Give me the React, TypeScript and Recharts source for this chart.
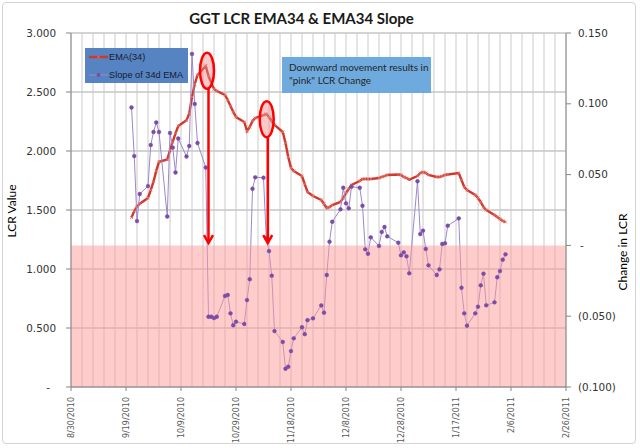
import React from 'react';
import {
  ComposedChart,
  Line,
  XAxis,
  YAxis,
  CartesianGrid,
  ReferenceArea,
  ReferenceDot,
  ReferenceLine,
} from 'recharts';

// ---------- data ----------
const dates = [
  '9/21/2010', '9/22/2010', '9/23/2010', '9/24/2010', '9/27/2010', '9/28/2010', '9/29/2010', '9/30/2010', '10/1/2010',
  '10/4/2010', '10/5/2010', '10/6/2010', '10/7/2010', '10/8/2010', '10/11/2010', '10/12/2010', '10/13/2010', '10/14/2010',
  '10/15/2010', '10/18/2010', '10/19/2010', '10/20/2010', '10/21/2010', '10/22/2010', '10/25/2010', '10/26/2010',
  '10/27/2010', '10/28/2010', '10/29/2010', '11/1/2010', '11/2/2010', '11/3/2010', '11/4/2010', '11/5/2010', '11/8/2010',
  '11/9/2010', '11/10/2010', '11/11/2010', '11/12/2010', '11/15/2010', '11/16/2010', '11/17/2010', '11/18/2010',
  '11/19/2010', '11/22/2010', '11/23/2010', '11/24/2010', '11/26/2010', '11/29/2010', '11/30/2010', '12/1/2010',
  '12/2/2010', '12/3/2010', '12/6/2010', '12/7/2010', '12/8/2010', '12/9/2010', '12/10/2010', '12/13/2010', '12/14/2010',
  '12/15/2010', '12/16/2010', '12/17/2010', '12/20/2010', '12/21/2010', '12/22/2010', '12/23/2010', '12/27/2010',
  '12/28/2010', '12/29/2010', '12/30/2010', '12/31/2010', '1/3/2011', '1/4/2011', '1/5/2011', '1/6/2011', '1/7/2011',
  '1/10/2011', '1/11/2011', '1/12/2011', '1/13/2011', '1/14/2011', '1/18/2011', '1/19/2011', '1/20/2011', '1/21/2011',
  '1/24/2011', '1/25/2011', '1/26/2011', '1/27/2011', '1/28/2011', '1/31/2011', '2/1/2011', '2/2/2011', '2/3/2011',
  '2/4/2011',
];

const emaValues = [
  1.436, 1.492, 1.528, 1.553, 1.602, 1.669, 1.74, 1.831, 1.909,
  1.928, 2.008, 2.079, 2.15, 2.212, 2.26, 2.319, 2.458, 2.568,
  2.644, 2.72, 2.636, 2.576, 2.525, 2.508, 2.475, 2.432,
  2.381, 2.331, 2.288, 2.246, 2.169, 2.203, 2.254, 2.28, 2.305,
  2.314, 2.288, 2.254, 2.22, 2.161, 2.068, 1.949, 1.856,
  1.831, 1.788, 1.72, 1.653, 1.619, 1.585, 1.551, 1.517,
  1.525, 1.542, 1.568, 1.602, 1.644, 1.678, 1.712, 1.746, 1.763,
  1.763, 1.763, 1.763, 1.771, 1.78, 1.788, 1.797, 1.801,
  1.797, 1.78, 1.771, 1.758, 1.788, 1.814, 1.822, 1.814, 1.797,
  1.78, 1.78, 1.788, 1.797, 1.801, 1.814, 1.754, 1.695, 1.669,
  1.627, 1.602, 1.568, 1.525, 1.5, 1.458, 1.441, 1.424, 1.407,
  1.398,
];

const slopeValues = [
  0.0974, 0.0631, 0.0172, 0.0363, 0.0419, 0.0709, 0.0801, 0.0868, 0.0801,
  0.0204, 0.0794, 0.0691, 0.0515, 0.0755, 0.0628, 0.0702, 0.1352, 0.0999,
  0.0723, 0.055, -0.0504, -0.0504, -0.0513, -0.0504, -0.0357, -0.035,
  -0.048, -0.0564, -0.0539, -0.0555, -0.0386, -0.0239, 0.04, 0.0481, 0.0478,
  0.0052, -0.004, -0.0214, -0.0605, -0.0682, -0.0871, -0.0857, -0.0746,
  -0.0656, -0.0578, -0.0627, -0.0528, -0.0515, -0.0424, -0.0475, -0.0209,
  0.0026, 0.0167, 0.0255, 0.0407, 0.0297, 0.0262, 0.0415, 0.0407, 0.028,
  -0.0028, -0.0059, 0.0057, -0.0004, 0.0095, 0.013, 0.0064, 0.0019,
  -0.007, -0.0049, -0.0077, -0.0197, 0.0453, 0.008, 0.0104, -0.0025, -0.0141,
  -0.0209, -0.0169, 0.001, 0.0015, 0.0139, 0.0191, -0.0299, -0.048, -0.0567,
  -0.048, -0.0433, -0.0282, -0.02, -0.0423, -0.0402, -0.0225, -0.0181, -0.0101,
  -0.0063,
];

const xTickLabels = [
  '8/30/2010', '9/19/2010', '10/9/2010', '10/29/2010', '11/18/2010',
  '12/8/2010', '12/28/2010', '1/17/2011', '2/6/2011', '2/26/2011',
];
const leftTicks = [0, 0.5, 1, 1.5, 2, 2.5, 3];
const rightTicks = [-0.1, -0.05, 0, 0.05, 0.1, 0.15];

const ellipseNotes = [
  { date: '10/18/2010', hour: 11, value: 2.68 },
  { date: '11/9/2010', hour: 4, value: 2.27 },
];
const arrowNotes = [
  { date: '10/19/2010', hour: 0, from: 2.53, to: 1.22 },
  { date: '11/9/2010', hour: 13, from: 2.12, to: 1.22 },
];

// ---------- helpers ----------
const DAY = 86400000;
const toTs = (s: string, hour = 0) => {
  const [m, d, y] = s.split('/').map(Number);
  return Date.UTC(y, m - 1, d, hour);
};
const fmtDate = (ts: number) => {
  const d = new Date(ts);
  return `${d.getUTCMonth() + 1}/${d.getUTCDate()}/${d.getUTCFullYear()}`;
};

const data = dates.map((d, i) => ({ t: toTs(d), ema: emaValues[i], slope: slopeValues[i] }));

const xStart = toTs(xTickLabels[0]);
const xEnd = toTs(xTickLabels[xTickLabels.length - 1]);
const majorSet = new Set(xTickLabels.map((s) => toTs(s)));
const gridTicks: number[] = [];
for (let t = xStart; t <= xEnd; t += 4 * DAY) gridTicks.push(t);

const EMA_COLOR = '#d0382c';
const SLOPE_LINE = '#9d88cc';
const SLOPE_DOT = '#7a4ca6';
const TICK_FONT = 'DejaVu Sans';
const TEXT_FONT = 'Lato';

const XTick = (props: any) => {
  const { x, payload } = props;
  const v = payload.value as number;
  if (!majorSet.has(v)) return null;
  return (
    <g>
      <line x1={x} x2={x} y1={387} y2={391} stroke="#868686" strokeWidth={1} />
      <text
        transform={`translate(${x},${397}) rotate(-90)`}
        textAnchor="end"
        dy="0.35em"
        fontFamily={TICK_FONT}
        fontSize={8}
        fill="#595959"
      >
        {fmtDate(v)}
      </text>
    </g>
  );
};

const LeftTick = (props: any) => {
  const { x, y, payload } = props;
  const v = payload.value as number;
  const label = v === 0 ? '-' : v.toFixed(3);
  return (
    <text x={v === 0 ? x - 6 : x} y={y} dy="0.35em" textAnchor="end" fontFamily={TICK_FONT} fontSize={10.4} fill="#333">
      {label}
    </text>
  );
};

const RightTick = (props: any) => {
  const { x, y, payload } = props;
  const v = payload.value as number;
  const label = Math.abs(v) < 1e-9 ? '-' : v < 0 ? `(${Math.abs(v).toFixed(3)})` : v.toFixed(3);
  return (
    <text x={Math.abs(v) < 1e-9 ? x + 2 : x} y={y} dy="0.35em" textAnchor="start" fontFamily={TICK_FONT} fontSize={10.4} fill="#333">
      {label}
    </text>
  );
};

const EmaDot = (props: any) => {
  const { cx, cy } = props;
  if (cx == null || cy == null) return null;
  return (
    <path
      d={`M${cx - 1.5},${cy - 1.5}L${cx + 1.5},${cy + 1.5}M${cx - 1.5},${cy + 1.5}L${cx + 1.5},${cy - 1.5}`}
      stroke="#e2766c"
      strokeWidth={0.8}
      fill="none"
    />
  );
};

const EllipseShape = (props: any) => {
  const { cx, cy } = props;
  return (
    <ellipse cx={cx} cy={cy} rx={7} ry={18} fill="#f08a8a" fillOpacity={0.45} stroke="#ff0000" strokeWidth={2.5} />
  );
};

const ArrowShape = (props: any) => {
  const { x1, y1, x2, y2 } = props;
  const top = Math.min(y1, y2);
  const tip = Math.max(y1, y2);
  const x = x1;
  return (
    <g>
      <line x1={x} x2={x} y1={top} y2={tip - 1} stroke="#ff0000" strokeWidth={2.5} />
      <polyline
        points={`${x - 4.5},${tip - 8} ${x},${tip} ${x + 4.5},${tip - 8}`}
        fill="none"
        stroke="#ff0000"
        strokeWidth={2.5}
      />
    </g>
  );
};

export default function App() {
  return (
    <div
      style={{
        position: 'fixed',
        left: 0,
        top: 0,
        width: 640,
        height: 448,
        background: '#fff',
        overflow: 'hidden',
      }}
    >
      <div
        style={{
          position: 'absolute',
          left: 2,
          top: 2,
          width: 634,
          height: 442,
          border: '1px solid #d4d4d4',
          borderRadius: 4,
          boxSizing: 'border-box',
        }}
      />
      <ComposedChart width={640} height={448} data={data} margin={{ top: 33, right: 0, bottom: 0, left: 0 }}>
        <CartesianGrid yAxisId="left" vertical={false} stroke="#a9a9a9" strokeWidth={1} />
        <CartesianGrid horizontal={false} stroke="#cacaca" strokeWidth={1} />
        <XAxis
          dataKey="t"
          type="number"
          domain={[xStart, xEnd]}
          ticks={gridTicks}
          interval={0}
          tick={<XTick />}
          tickLine={false}
          axisLine={{ stroke: '#868686' }}
          height={61}
          allowDataOverflow
        />
        <YAxis
          yAxisId="left"
          domain={[0, 3]}
          ticks={leftTicks}
          interval={0}
          width={71}
          tick={<LeftTick />}
          tickSize={5}
          tickMargin={10}
          tickLine={{ stroke: '#868686' }}
          axisLine={{ stroke: '#868686' }}
        />
        <YAxis
          yAxisId="right"
          orientation="right"
          domain={[-0.1, 0.15]}
          ticks={rightTicks}
          interval={0}
          width={74}
          tick={<RightTick />}
          tickSize={5}
          tickMargin={7}
          tickLine={{ stroke: '#868686' }}
          axisLine={{ stroke: '#868686' }}
        />
        <Line
          yAxisId="left"
          dataKey="ema"
          stroke={EMA_COLOR}
          strokeWidth={2.4}
          dot={<EmaDot />}
          isAnimationActive={false}
        />
        <Line
          yAxisId="right"
          dataKey="slope"
          stroke={SLOPE_LINE}
          strokeWidth={1}
          dot={{ r: 1.9, fill: SLOPE_DOT, stroke: SLOPE_DOT, strokeWidth: 0.5 }}
          isAnimationActive={false}
        />
        <ReferenceArea
          yAxisId="right"
          y1={-0.1}
          y2={0}
          fill="#ff9999"
          fillOpacity={0.5}
          stroke="none"
          {...({ zIndex: 450 } as any)}
        />
        {ellipseNotes.map((e, i) => (
          <ReferenceDot
            key={`e${i}`}
            yAxisId="left"
            x={toTs(e.date, e.hour)}
            y={e.value}
            shape={<EllipseShape />}
            {...({ zIndex: 700 } as any)}
          />
        ))}
        {arrowNotes.map((a, i) => (
          <ReferenceLine
            key={`a${i}`}
            yAxisId="left"
            segment={[
              { x: toTs(a.date, a.hour), y: a.from },
              { x: toTs(a.date, a.hour), y: a.to },
            ]}
            shape={(p: any) => <ArrowShape {...p} />}
            {...({ zIndex: 700 } as any)}
          />
        ))}
      </ComposedChart>

      {/* title */}
      <div
        style={{
          position: 'absolute',
          left: 0,
          width: 603,
          top: 8,
          textAlign: 'center',
          fontFamily: TEXT_FONT,
          fontWeight: 700,
          fontSize: 15,
          lineHeight: '20px',
          color: '#1a1a1a',
        }}
      >
        GGT LCR EMA34 &amp; EMA34 Slope
      </div>

      {/* axis titles */}
      <div
        style={{
          position: 'absolute',
          left: 11,
          top: 211,
          transform: 'translate(-50%, -50%) rotate(-90deg)',
          whiteSpace: 'nowrap',
          fontFamily: TEXT_FONT,
          fontSize: 12,
          color: '#000',
        }}
      >
        LCR Value
      </div>
      <div
        style={{
          position: 'absolute',
          left: 622,
          top: 252,
          transform: 'translate(-50%, -50%) rotate(-90deg)',
          whiteSpace: 'nowrap',
          fontFamily: TEXT_FONT,
          fontSize: 12,
          color: '#000',
        }}
      >
        Change in LCR
      </div>

      {/* legend box */}
      <div
        style={{
          position: 'absolute',
          left: 85,
          top: 48,
          width: 103,
          height: 35,
          background: '#5683c1',
          fontFamily: 'Liberation Sans',
          fontSize: 9.2,
          color: '#1b1b2e',
        }}
      >
        <svg width={24} height={35} style={{ position: 'absolute', left: 0, top: 0 }}>
          <line x1={4} x2={23} y1={9} y2={9} stroke={EMA_COLOR} strokeWidth={2.4} />
          <path d="M12,7.5L15,10.5M12,10.5L15,7.5" stroke="#e2766c" strokeWidth={0.8} />
          <line x1={4} x2={23} y1={27} y2={27} stroke={SLOPE_LINE} strokeWidth={1} />
          <circle cx={13.5} cy={27} r={1.9} fill={SLOPE_DOT} />
        </svg>
        <div style={{ position: 'absolute', left: 24, top: 3, lineHeight: '12px', whiteSpace: 'nowrap' }}>EMA(34)</div>
        <div style={{ position: 'absolute', left: 24, top: 21, lineHeight: '12px', whiteSpace: 'nowrap' }}>
          Slope of 34d EMA
        </div>
      </div>

      {/* text box */}
      <div
        style={{
          position: 'absolute',
          left: 282,
          top: 57,
          width: 149,
          height: 36,
          background: '#6eaadd',
          fontFamily: TEXT_FONT,
          fontSize: 10,
          lineHeight: '13px',
          color: '#262626',
          boxSizing: 'border-box',
          padding: '4px 0 0 7px',
          whiteSpace: 'nowrap',
        }}
      >
        Downward movement results in
        <br />
        "pink" LCR Change
      </div>
    </div>
  );
}
